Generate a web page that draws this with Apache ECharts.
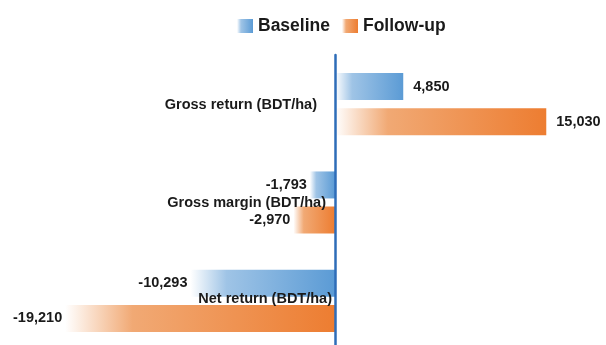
<!DOCTYPE html>
<html>
<head>
<meta charset="utf-8">
<style>
  html, body { margin: 0; padding: 0; background: #ffffff; }
  #chart { width: 606px; height: 345px; }
</style>
<script src="https://cdn.jsdelivr.net/npm/echarts@6/dist/echarts.min.js"></script>
</head>
<body>
<div id="chart"></div>
<script>
// Returns per hectare, baseline vs. follow-up survey
const categories = ['Gross return (BDT/ha)', 'Gross margin (BDT/ha)', 'Net return (BDT/ha)'];
const seriesNames = ['Baseline', 'Follow-up'];
const baseline = [4850, -1793, -10293];
const followUp = [15030, -2970, -19210];

const FONT = '"Liberation Sans", Arial, Helvetica, sans-serif';

function fade(solid, mid) {
  return new echarts.graphic.LinearGradient(0, 0, 1, 0, [
    { offset: 0, color: '#ffffff' },
    { offset: 0.25, color: mid },
    { offset: 1, color: solid }
  ]);
}

const colors = [fade('#5b9bd5', '#9fc4e6'), fade('#ed7d31', '#f1a974')];

function fmt(v) {
  return v.toLocaleString('en-US');
}

function buildData(values) {
  return values.map(function (v) {
    return {
      value: v,
      label: v >= 0
        ? { position: 'right', distance: 10 }
        : { position: 'left', distance: 3 }
    };
  });
}

// per-category nudges for the axis labels
const labelStyles = ['a', 'b', 'c'];

const chart = echarts.init(document.getElementById('chart'), null, { renderer: 'canvas' });

chart.setOption({
  animation: false,
  legend: {
    data: seriesNames,
    left: 232,
    top: 12,
    itemWidth: 16,
    itemHeight: 14,
    itemGap: 12,
    icon: 'rect',
    textStyle: { fontFamily: FONT, fontSize: 17.5, fontWeight: 'bold', color: '#1a1a1a' }
  },
  grid: { left: 26, right: 18, top: 55, bottom: -5, containLabel: false, outerBoundsMode: 'none' },
  xAxis: {
    type: 'value',
    min: -22000,
    max: 18000,
    show: false
  },
  yAxis: {
    type: 'category',
    data: categories,
    inverse: true,
    z: 10,
    axisLine: { show: true, onZero: true, lineStyle: { color: '#2e6db8', width: 2.5 } },
    axisTick: { show: false },
    axisLabel: {
      margin: -307,
      align: 'right',
      fontFamily: FONT,
      fontSize: 14.5,
      fontWeight: 'bold',
      color: '#1a1a1a',
      formatter: function (value, idx) {
        return '{' + labelStyles[idx] + '|' + value + '}';
      },
      rich: {
        a: { fontFamily: FONT, fontSize: 14.5, fontWeight: 'bold', color: '#1a1a1a', padding: [2, 16, 0, 0] },
        b: { fontFamily: FONT, fontSize: 14.5, fontWeight: 'bold', color: '#1a1a1a', padding: [0, 7, 0, 0] },
        c: { fontFamily: FONT, fontSize: 14.5, fontWeight: 'bold', color: '#1a1a1a', padding: [0, 1, 3, 0] }
      }
    },
    splitLine: { show: false }
  },
  series: [
    {
      name: seriesNames[0],
      type: 'bar',
      data: buildData(baseline),
      barWidth: 27,
      barGap: '30%',
      itemStyle: { color: colors[0] },
      label: {
        show: true,
        fontFamily: FONT,
        fontSize: 14.5,
        fontWeight: 'bold',
        color: '#1a1a1a',
        formatter: function (p) { return fmt(p.value); }
      }
    },
    {
      name: seriesNames[1],
      type: 'bar',
      data: buildData(followUp),
      barWidth: 27,
      barGap: '30%',
      itemStyle: { color: colors[1] },
      label: {
        show: true,
        fontFamily: FONT,
        fontSize: 14.5,
        fontWeight: 'bold',
        color: '#1a1a1a',
        formatter: function (p) { return fmt(p.value); }
      }
    }
  ]
});
</script>
</body>
</html>
